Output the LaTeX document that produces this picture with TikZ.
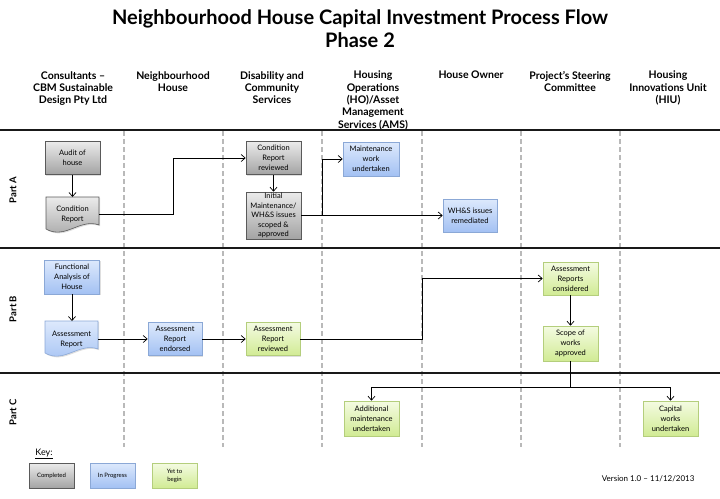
\documentclass[tikz,border=0pt]{standalone}
\usepackage{fontspec}
\setmainfont{Lato}
\usetikzlibrary{arrows.meta,shadows}

\definecolor{greytop}{HTML}{EBEBEB}
\definecolor{greybot}{HTML}{A3A3A3}
\definecolor{greyline}{HTML}{5A5A5A}
\definecolor{bluetop}{HTML}{DDE9FC}
\definecolor{bluebot}{HTML}{A3C1F3}
\definecolor{blueline}{HTML}{8BA8D6}
\definecolor{greentop}{HTML}{F4FBE2}
\definecolor{greenbot}{HTML}{D1EB94}
\definecolor{greenline}{HTML}{B4CE7C}

\begin{document}
\begin{tikzpicture}[x=1pt, y=-1pt,
  stepbox/.style={rectangle, line width=0.6pt, align=center, inner sep=1pt,
    minimum width=55pt, minimum height=33pt, font=\fontsize{7.5}{10}\selectfont,
    drop shadow={opacity=0.25, shadow xshift=1.2pt, shadow yshift=-1.2pt}},
  done/.style={stepbox, draw=greyline, top color=greytop, bottom color=greybot},
  doing/.style={stepbox, draw=blueline, top color=bluetop, bottom color=bluebot},
  todo/.style={stepbox, draw=greenline, top color=greentop, bottom color=greenbot},
  docnode/.style={rectangle, align=center, inner sep=1pt, minimum width=53pt,
    minimum height=30pt, font=\fontsize{7.5}{10}\selectfont},
  docgrey/.style={line width=0.6pt, draw=greyline, top color=greytop, bottom color=greybot,
    drop shadow={opacity=0.25, shadow xshift=1.2pt, shadow yshift=-1.2pt}},
  docblue/.style={line width=0.6pt, draw=blueline, top color=bluetop, bottom color=bluebot,
    drop shadow={opacity=0.25, shadow xshift=1.2pt, shadow yshift=-1.2pt}},
  keybox/.style={minimum width=45pt, minimum height=25pt, font=\fontsize{6}{8}\selectfont},
  header/.style={anchor=north, align=center, inner sep=0pt,
    font=\bfseries\fontsize{10.5}{12.3}\selectfont},
  partlabel/.style={rotate=90, font=\bfseries\fontsize{9.5}{11}\selectfont},
  lane/.style={draw=gray!55, line width=1.3pt, dash pattern=on 5pt off 3pt},
  band/.style={draw=black!90, line width=2.2pt},
  flow/.style={draw, line width=0.7pt, -{Straight Barb[length=4pt,width=7pt]}}
]
\useasboundingbox (0,0) rectangle (720,498);

% Title and lane headers
\node[align=center, font=\bfseries\fontsize{20}{23}\selectfont] (title) at (360,29)
  {Neighbourhood House Capital Investment Process Flow\\Phase 2};
\node[header] (hcons) at (73,71) {Consultants --\\CBM Sustainable\\Design Pty Ltd};
\node[header] (hnh) at (173,71) {Neighbourhood\\House};
\node[header] (hdcs) at (272,71) {Disability and\\Community\\Services};
\node[header] (hams) at (373,71) {Housing\\Operations\\(HO)/Asset\\Management\\Services (AMS)};
\node[header] (howner) at (471,71) {House Owner};
\node[header] (hpsc) at (570,71) {Project's Steering\\Committee};
\node[header] (hhiu) at (668,71) {Housing\\Innovations Unit\\(HIU)};

% Lanes and bands
\foreach \x in {124,223,322,422,521,620}
  \draw[lane] (\x,131) -- (\x,447);
\foreach \y in {130,248,373}
  \draw[band] (0,\y) -- (720,\y);

\node[partlabel] (parta) at (13,190) {Part A};
\node[partlabel] (partb) at (13,309) {Part B};
\node[partlabel] (partc) at (13,412) {Part C};

% Part A
\node[done] (audit) at (72.5,158) {Audit of\\house};
\path[docgrey] (46,197) -- (99,197) -- (99,225)
  .. controls (80,218) and (65,240) .. (46,229) -- cycle;
\node[docnode] (cr) at (72.5,214) {Condition\\Report};
\node[done] (rev) at (273.5,158) {Condition\\Report\\reviewed};
\node[done, minimum height=47pt, font=\fontsize{7.5}{9.4}\selectfont] (init) at (273.5,215.5)
  {Initial\\Maintenance/\\WH\&S issues\\scoped \&\\approved};
\node[doing, minimum width=56pt, minimum height=34pt] (maint) at (371,159) {Maintenance\\work\\undertaken};
\node[doing, minimum width=54pt] (whs) at (470,215.5) {WH\&S issues\\remediated};

\draw[flow] (audit) -- (audit |- 0,197);
\draw[flow] (cr.east) -- ++(74,0) |- (rev.west);
\draw[flow] (rev) -- (init);
\draw[flow] (init.east) -- ++(21,0) |- (maint.west);
\draw[flow] (init.east) -- (whs.west);

% Part B
\node[doing, minimum height=34pt] (fa) at (72,277) {Functional\\Analysis of\\House};
\path[docblue] (45,321) -- (98,321) -- (98,349)
  .. controls (79,342) and (64,364) .. (45,353) -- cycle;
\node[docnode] (ar) at (71.5,339) {Assessment\\Report};
\node[doing, minimum width=54pt] (endr) at (175,339) {Assessment\\Report\\endorsed};
\node[todo, minimum width=54pt] (revb) at (273,339) {Assessment\\Report\\reviewed};
\node[todo] (cons) at (570.5,278.5) {Assessment\\Reports\\considered};
\node[todo, minimum height=35pt] (scope) at (570.5,343.5) {Scope of\\works\\approved};

\draw[flow] (fa) -- (fa |- 0,321);
\draw[flow] (ar.east) -- (endr.west);
\draw[flow] (endr) -- (revb);
\draw[flow] (revb.east) -- ++(122,0) |- (cons.west);
\draw[flow] (cons) -- (scope);

% Part C
\node[todo, minimum height=35pt] (add) at (371.5,418.5) {Additional\\maintenance\\undertaken};
\node[todo, minimum height=35pt] (cap) at (670.5,418.5) {Capital\\works\\undertaken};

\draw[flow] (scope.south) -- ++(0,26) -| (add.north);
\draw[flow] (scope.south) -- ++(0,26) -| (cap.north);

% Key
\node[font=\fontsize{9}{11}\selectfont] (key) at (44,454) {\underline{Key:}};
\node[done, keybox] (kdone) at (51.5,475.5) {Completed};
\node[doing, keybox] (kdoing) at (112.5,475.5) {In Progress};
\node[todo, keybox] (ktodo) at (174.5,475.5) {Yet to\\begin};

\node[anchor=east, font=\fontsize{8}{10}\selectfont] (version) at (698,479) {Version 1.0 -- 11/12/2013};

\end{tikzpicture}
\end{document}
